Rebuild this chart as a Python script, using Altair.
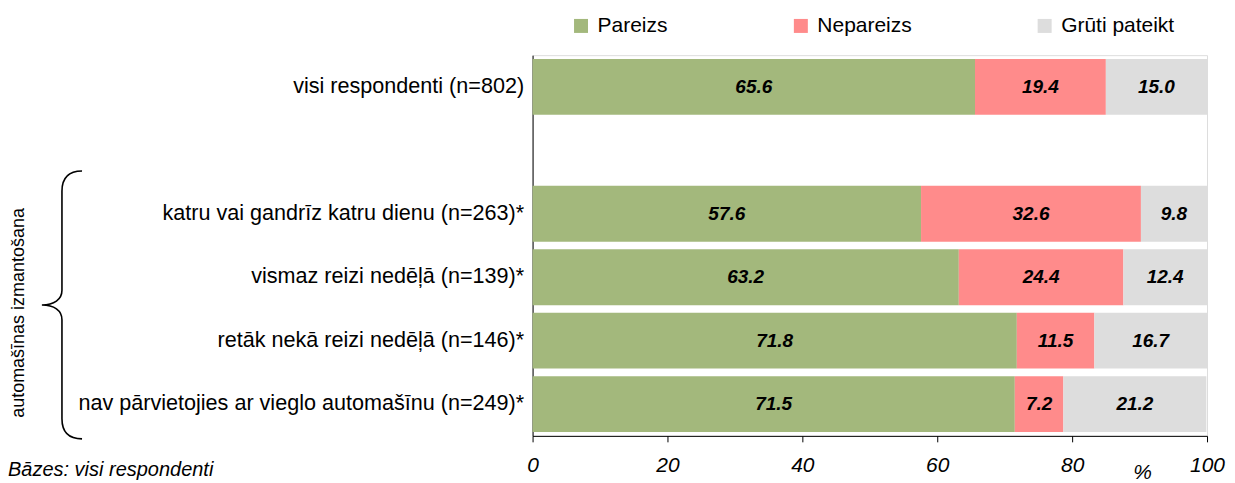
import altair as alt
import pandas as pd

categories = [
    "visi respondenti (n=802)",
    "katru vai gandrīz katru dienu (n=263)*",
    "vismaz reizi nedēļā (n=139)*",
    "retāk nekā reizi nedēļā (n=146)*",
    "nav pārvietojies ar vieglo automašīnu (n=249)*",
]
series = ["Pareizs", "Nepareizs", "Grūti pateikt"]
pareizs = [65.6, 57.6, 63.2, 71.8, 71.5]
nepareizs = [19.4, 32.6, 24.4, 11.5, 7.2]
gruti = [15.0, 9.8, 12.4, 16.7, 21.2]
colors = ["#A3B87C", "#FF8B8B", "#DDDDDD"]
x_ticks = [0, 20, 40, 60, 80, 100]
group_label = "automašīnas izmantošana"
note = "Bāzes: visi respondenti"
x_title = "%"

y_domain = [categories[0], " "] + categories[1:]

rows = []
for i, cat in enumerate(categories):
    for k, (s, vals) in enumerate(zip(series, [pareizs, nepareizs, gruti])):
        rows.append({"cat": cat, "series": s, "k": k, "value": vals[i]})
df = pd.DataFrame(rows)

FONT = "Liberation Sans"

base = alt.Chart(df).transform_stack(
    stack="value", groupby=["cat"], as_=["v0", "v1"], sort=[alt.SortField("k", order="ascending")]
).transform_calculate(mid="(datum.v0 + datum.v1) / 2")

yenc = alt.Y(
    "cat:N",
    scale=alt.Scale(domain=y_domain, paddingInner=0.12, paddingOuter=0.06),
    axis=alt.Axis(
        title=None, ticks=False, domainColor="black", labelColor="black",
        labelFontSize=21.6, labelPadding=9, labelFont=FONT, labelLimit=600,
    ),
)

bars = base.mark_bar(opacity=1, strokeWidth=0).encode(
    x=alt.X(
        "v0:Q",
        scale=alt.Scale(domain=[0, 100], nice=False),
        axis=alt.Axis(
            values=x_ticks, grid=False, domainColor="black", tickColor="black",
            tickSize=6, labelFontSize=21, labelFontStyle="italic", labelColor="black",
            labelPadding=13, labelFont=FONT, labelFlush=False, title=x_title, titleFontSize=21,
            titleFontStyle="italic", titleFontWeight="normal", titleColor="black",
            titleFont=FONT, titleX=610, titleY=43, titleAlign="center",
            titleBaseline="alphabetic", titleAnchor="start",
        ),
    ),
    x2="v1:Q",
    y=yenc,
    color=alt.Color(
        "series:N",
        scale=alt.Scale(domain=series, range=colors),
        legend=alt.Legend(
            orient="none", legendX=38, legendY=-40, direction="horizontal", title=None,
            symbolType="square", symbolSize=196, symbolStrokeWidth=0, symbolOpacity=1,
            labelFontSize=21, labelOffset=6, columnPadding=122, padding=0,
            labelColor="black", labelFont=FONT,
        ),
    ),
)

labels = base.mark_text(
    fontSize=19, fontWeight="bold", fontStyle="italic", color="black", font=FONT
).encode(
    x=alt.X("mid:Q"),
    y=alt.Y("cat:N"),
    text=alt.Text("value:Q", format=".1f"),
)

one = pd.DataFrame({"a": [0]})
brace_path = (
    "M 0.15 -1 C 0.05 -1 0 -0.95 0 -0.85 L 0 -0.11 C 0 -0.04 -0.06 0 -0.15 0 "
    "C -0.06 0 0 0.04 0 0.11 L 0 0.85 C 0 0.95 0.05 1 0.15 1"
)
brace = alt.Chart(one).mark_point(
    shape=brace_path, size=268 * 268, filled=False, stroke="black",
    strokeWidth=1.6, opacity=1, fill="transparent",
).encode(x=alt.value(-471), y=alt.value(250))

group_text = alt.Chart(one).mark_text(
    text=group_label, angle=270, fontSize=18, font=FONT, color="black",
    align="center", baseline="middle",
).encode(x=alt.value(-514), y=alt.value(258))

note_text = alt.Chart(one).mark_text(
    text=note, fontSize=20, fontStyle="italic", font=FONT, color="black",
    align="left", baseline="alphabetic",
).encode(x=alt.value(-525), y=alt.value(421))

chart = alt.layer(bars, labels, brace, group_text, note_text).properties(
    width=675, height=381,
    autosize=alt.AutoSizeParams(type="none"),
    padding={"left": 525, "top": 47, "right": 20, "bottom": 52},
).configure_view(stroke=None).configure(font=FONT)

chart.save("out.html", embed_options={"renderer": "svg", "actions": False})
